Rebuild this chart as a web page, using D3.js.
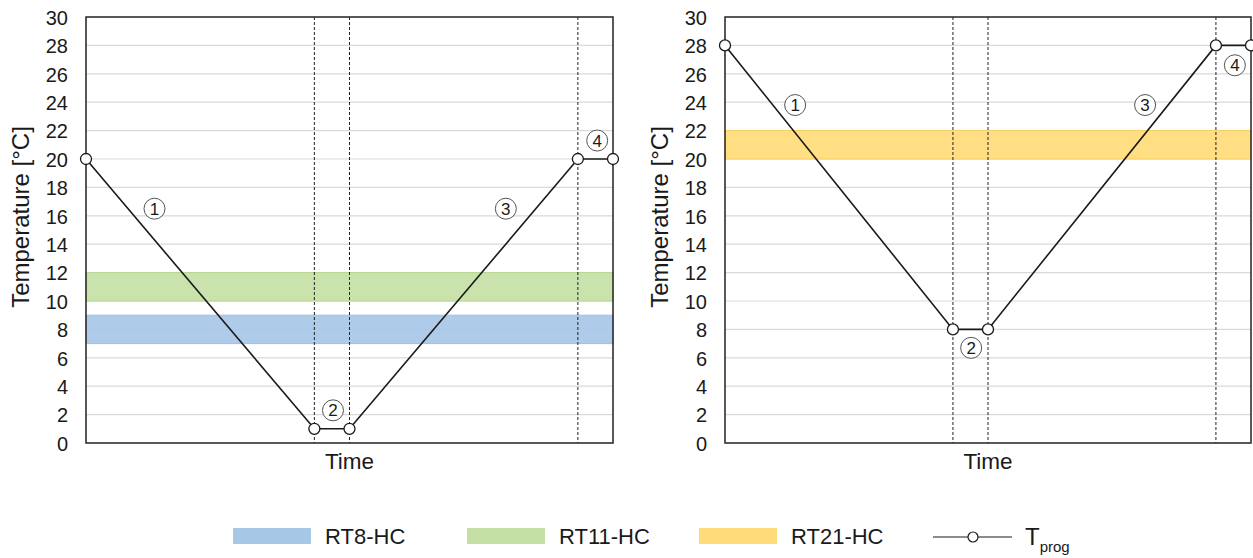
<!DOCTYPE html>
<html>
<head>
<meta charset="utf-8">
<script src="https://cdn.jsdelivr.net/npm/d3@7"></script>
<style>
  body { margin: 0; background: #fff; }
  text { font-family: "Liberation Sans", Arial, sans-serif; fill: #1a1a1a; }
</style>
</head>
<body>
<div class="chart-div"></div>
<script>
// temperature programme, left panel
const leftTimes = [0, 6.5, 7.5, 14, 15]
const leftTemps = [20, 1, 1, 20, 20]
// right panel
const rightTimes = [0, 6.5, 7.5, 14, 15]
const rightTemps = [28, 8, 8, 28, 28]

// comfort bands [name, low, high]
const leftBands = [["RT11-HC", 10, 12], ["RT8-HC", 7, 9]]
const rightBands = [["RT21-HC", 20, 22]]

// circled phase labels [label, time, temp]
const leftPhases = [["1", 1.95, 16.5], ["2", 7.03, 2.3], ["3", 11.95, 16.5], ["4", 14.55, 21.3]]
const rightPhases = [["1", 2.0, 23.8], ["2", 7.02, 6.7], ["3", 11.98, 23.8], ["4", 14.54, 26.6]]

const yTicks = d3.range(0, 31, 2)
const legendItems = ["RT8-HC", "RT11-HC", "RT21-HC"]

const bandColors = {"RT8-HC": "#a7c7e7", "RT11-HC": "#c5e0a5", "RT21-HC": "#ffdb7a"}
const bandStroke = {"RT8-HC": "#9dc0e3", "RT11-HC": "#b5d98f", "RT21-HC": "#f9cf60"}

let width = 1253, height = 558

let svg = d3.select(".chart-div").append("svg")
    .attr("width", width)
    .attr("height", height)

const panel = (x0, x1, times, temps, bands, phases, labelX) => {
    let x = d3.scaleLinear().domain([0, 15]).range([x0, x1])
    let y = d3.scaleLinear().domain([0, 30]).range([443, 17])

    let g = svg.append("g")

    // grid
    g.selectAll("line.grid")
        .data(yTicks.filter(d => d > 0 && d < 30))
        .enter().append("line")
        .attr("x1", x0).attr("x2", x1)
        .attr("y1", d => y(d)).attr("y2", d => y(d))
        .attr("stroke", "#d9d9d9")
        .attr("stroke-width", 1.2)

    // bands
    g.selectAll("rect.band")
        .data(bands)
        .enter().append("rect")
        .attr("x", x0)
        .attr("width", x1 - x0)
        .attr("y", d => y(d[2]))
        .attr("height", d => y(d[1]) - y(d[2]))
        .attr("fill", d => bandColors[d[0]])
        .attr("fill-opacity", 0.92)
        .attr("stroke", d => bandStroke[d[0]])
        .attr("stroke-width", 1)

    // dashed phase limits
    g.selectAll("line.phase")
        .data(times.slice(1, -1))
        .enter().append("line")
        .attr("x1", d => x(d)).attr("x2", d => x(d))
        .attr("y1", y(30)).attr("y2", y(0))
        .attr("stroke", "#222")
        .attr("stroke-width", 1)
        .attr("stroke-dasharray", "3,2")

    // frame
    g.append("rect")
        .attr("x", x0).attr("y", y(30))
        .attr("width", x1 - x0).attr("height", y(0) - y(30))
        .attr("fill", "none")
        .attr("stroke", "#222")
        .attr("stroke-width", 1.5)

    // y axis
    let yAxis = d3.axisLeft(y).tickValues(yTicks).tickSize(0).tickPadding(18)
    let ya = g.append("g")
        .attr("transform", `translate(${x0},0)`)
        .call(yAxis)
    ya.select(".domain").remove()
    ya.selectAll("text")
        .style("font-family", "'Liberation Sans', Arial, sans-serif")
        .style("font-size", "20px")
        .attr("fill", "#1a1a1a")
        .attr("dy", "0.36em")

    g.append("text")
        .attr("transform", `translate(${labelX},217) rotate(-90)`)
        .attr("text-anchor", "middle")
        .style("font-size", "24px")
        .text("Temperature [°C]")

    g.append("text")
        .attr("x", (x0 + x1) / 2)
        .attr("y", 469)
        .attr("text-anchor", "middle")
        .style("font-size", "22.5px")
        .text("Time")

    // programme line
    let pts = times.map((t, i) => [t, temps[i]])
    g.append("path")
        .datum(pts)
        .attr("d", d3.line().x(d => x(d[0])).y(d => y(d[1])))
        .attr("fill", "none")
        .attr("stroke", "#1a1a1a")
        .attr("stroke-width", 1.6)

    g.selectAll("circle.pt")
        .data(pts)
        .enter().append("circle")
        .attr("cx", d => x(d[0])).attr("cy", d => y(d[1]))
        .attr("r", 5.5)
        .attr("fill", "#fff")
        .attr("stroke", "#1a1a1a")
        .attr("stroke-width", 1.3)

    // phase markers
    let ph = g.selectAll("g.phase")
        .data(phases)
        .enter().append("g")
        .attr("transform", d => `translate(${x(d[1])},${y(d[2])})`)
    ph.append("circle")
        .attr("r", 10.5)
        .attr("fill", "#fff")
        .attr("stroke", "#555")
        .attr("stroke-width", 1)
    ph.append("text")
        .attr("text-anchor", "middle")
        .attr("dy", "0.36em")
        .style("font-size", "17px")
        .text(d => d[0])
}

panel(86, 613, leftTimes, leftTemps, leftBands, leftPhases, 29)
panel(725, 1251, rightTimes, rightTemps, rightBands, rightPhases, 668)

// legend
let legendX = [233, 467, 699]
let legend = svg.selectAll("g.legend")
    .data(legendItems)
    .enter().append("g")
    .attr("transform", (d, i) => `translate(${legendX[i]},528)`)
legend.append("rect")
    .attr("width", 78).attr("height", 16)
    .attr("fill", d => bandColors[d])
legend.append("text")
    .attr("x", 92).attr("y", 16)
    .style("font-size", "22px")
    .text(d => d)

let lg = svg.append("g").attr("transform", "translate(933,537)")
lg.append("line").attr("x1", 0).attr("x2", 79)
    .attr("stroke", "#1a1a1a").attr("stroke-width", 1.2)
lg.append("circle").attr("cx", 40).attr("r", 5)
    .attr("fill", "#fff").attr("stroke", "#1a1a1a").attr("stroke-width", 1.2)
let tl = lg.append("text").attr("x", 92).attr("y", 8).style("font-size", "24px")
tl.append("tspan").text("T")
tl.append("tspan").attr("dy", 7).style("font-size", "15px").text("prog")
</script>
</body>
</html>
